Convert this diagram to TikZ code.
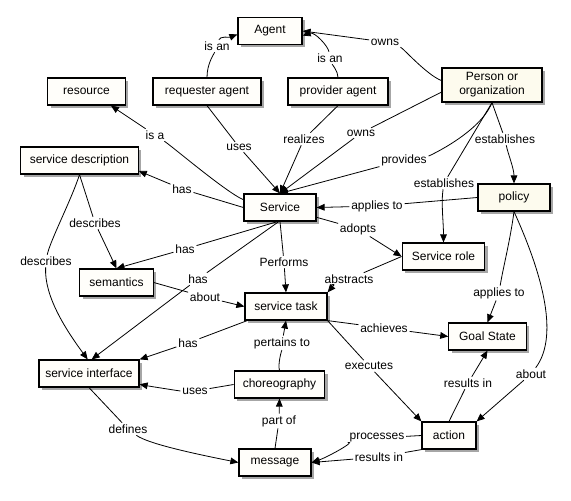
\documentclass[tikz,border=0pt]{standalone}
\usepackage{fontspec}
\setmainfont{Liberation Sans}
\usepackage{tikz}
\usetikzlibrary{positioning,shadows,arrows.meta}

\definecolor{boxfill}{RGB}{255,254,250}
\definecolor{creamfill}{RGB}{253,251,238}

\tikzset{
  concept/.style={draw=black, line width=0.9pt, fill=boxfill, minimum height=20.25pt, inner sep=2pt,
    font=\fontsize{9}{10.5}\selectfont,
    drop shadow={shadow xshift=2pt, shadow yshift=-2pt, opacity=0.35, fill=black}},
  linkword/.style={fill=white, inner sep=1.2pt, font=\fontsize{9}{10.5}\selectfont},
  link/.style={line width=0.6pt},
  arr/.style={link, -{Triangle[length=6pt,width=5pt]}},
}

\begin{document}
\begin{tikzpicture}[x=0.75pt,y=0.75pt,yscale=-1,xscale=1]
\useasboundingbox (0,0) rectangle (571,500);

%Node: Agent
\node[concept, minimum width=48pt] (agent) at (270,31) {Agent};
%Node: resource
\node[concept, minimum width=58pt] (resource) at (86.5,91.5) {resource};
%Node: requester agent
\node[concept, minimum width=81pt] (requester) at (207,91.5) {requester agent};
%Node: provider agent
\node[concept, minimum width=75pt] (provider) at (338,91.5) {provider agent};
%Node: Person or organization
\node[concept, fill=creamfill, minimum width=75pt, minimum height=25.5pt, align=center] (person) at (492,85) {Person or\\organization};
%Node: service description
\node[concept, minimum width=88pt] (description) at (79.5,160.5) {service description};
%Node: Service
\node[concept, minimum width=54pt] (service) at (280,207.5) {Service};
%Node: policy
\node[concept, fill=creamfill, minimum width=54pt] (policy) at (514,197.5) {policy};
%Node: semantics
\node[concept, minimum width=55pt] (semantics) at (116.5,282.5) {semantics};
%Node: Service role
\node[concept, minimum width=62pt] (role) at (443.5,256.5) {Service role};
%Node: service task
\node[concept, minimum width=61.5pt] (task) at (286,306.5) {service task};
%Node: Goal State
\node[concept, minimum width=58pt] (goal) at (487.5,336.5) {Goal State};
%Node: service interface
\node[concept, minimum width=75pt] (interface) at (89,373.5) {service interface};
%Node: choreography
\node[concept, minimum width=68pt] (choreo) at (279.5,384.5) {choreography};
%Node: action
\node[concept, minimum width=40.5pt] (action) at (449,435.5) {action};
%Node: message
\node[concept, minimum width=54pt] (message) at (275,462.5) {message};

%Linking words
\node[linkword] (isan1) at (217,46) {is an};
\node[linkword] (isan2) at (330,58) {is an};
\node[linkword] (owns1) at (385,42) {owns};
\node[linkword] (isa) at (155,135) {is a};
\node[linkword] (uses1) at (239,147) {uses};
\node[linkword] (realizes) at (304,139) {realizes};
\node[linkword] (owns2) at (361,133) {owns};
\node[linkword] (provides) at (404,160) {provides};
\node[linkword] (est1) at (505,139) {establishes};
\node[linkword] (est2) at (444,183) {establishes};
\node[linkword] (has1) at (182,189) {has};
\node[linkword] (app1) at (377,206) {applies to};
\node[linkword] (adopts) at (358,229) {adopts};
\node[linkword] (desc1) at (95,223) {describes};
\node[linkword] (desc2) at (46,261) {describes};
\node[linkword] (has2) at (185,249) {has};
\node[linkword] (performs) at (284,262) {Performs};
\node[linkword] (abstracts) at (349,279) {abstracts};
\node[linkword] (has3) at (198,279) {has};
\node[linkword] (about1) at (205,297) {about};
\node[linkword] (app2) at (499,293) {applies to};
\node[linkword] (has4) at (188,343) {has};
\node[linkword] (achieves) at (384,328) {achieves};
\node[linkword] (pertains) at (282,343) {pertains to};
\node[linkword] (executes) at (369,366) {executes};
\node[linkword] (uses2) at (195,391) {uses};
\node[linkword] (about2) at (531,374) {about};
\node[linkword] (res1) at (468,383) {results in};
\node[linkword] (defines) at (128,429) {defines};
\node[linkword] (partof) at (279,421) {part of};
\node[linkword] (processes) at (377,438) {processes};
\node[linkword] (res2) at (379,457) {results in};

%Links
\draw[link] (requester.north) .. controls +(0,-14) and +(-3,8) .. (isan1);
\draw[arr] (isan1) .. controls +(3,-10) and +(-8,3) .. (agent.186);
\draw[link] (provider.north) .. controls +(0,-6) and +(2,6) .. (isan2);
\draw[arr] (isan2) .. controls +(-2,-12) and +(12,-4) .. (agent.352);
\draw[link] (person.175) .. controls +(-15,-6) and +(18,6) .. (owns1);
\draw[arr] (owns1) -- (agent.east);
\draw[link] (service.168) .. controls +(-18,-8) and +(18,12) .. (isa);
\draw[arr] (isa) -- (resource.-30);
\draw[link] (requester.south) -- (uses1);
\draw[arr] (uses1) -- (service.north);
\draw[link] (provider.south) -- (realizes);
\draw[arr] (realizes) -- (service.north);
\draw[link] (person.188) -- (owns2);
\draw[arr] (owns2) -- (service.north);
\draw[link] (person.south) .. controls +(-12,30) and +(25,-4) .. (provides);
\draw[arr] (provides) -- (service.north);
\draw[link] (person.south) -- (est1);
\draw[arr] (est1) .. controls +(3,15) and +(0,-15) .. (policy.north);
\draw[link] (person.south) -- (est2);
\draw[arr] (est2) .. controls +(-3,20) and +(0,-20) .. (role.north);
\draw[link] (service.west) -- (has1);
\draw[arr] (has1) -- (description.-10);
\draw[link] (policy.west) -- (app1);
\draw[arr] (app1) -- (service.east);
\draw[link] (service.-15) -- (adopts);
\draw[arr] (adopts) -- (role.west);
\draw[link] (service.-100) -- (has2);
\draw[arr] (has2) -- (semantics.north);
\draw[link] (service.-95) -- (has3);
\draw[arr] (has3) -- ([xshift=2pt]interface.north);
\draw[link] (service.south) -- (performs);
\draw[arr] (performs) -- (task.north);
\draw[link] (role.west) -- (abstracts);
\draw[arr] (abstracts) .. controls +(-12,4) and +(5,-6) .. (task.north east);
\draw[link] (description.south) -- (desc1);
\draw[arr] (desc1) -- (semantics.north);
\draw[link] (description.south) .. controls +(-8,25) and +(4,-20) .. (desc2);
\draw[arr] (desc2) .. controls +(-2,35) and +(-22,-30) .. ([xshift=-1pt]interface.north);
\draw[link] (semantics.east) -- (about1);
\draw[arr] (about1) -- (task.west);
\draw[link] (policy.south) .. controls +(-4,30) and +(4,-25) .. (app2);
\draw[arr] (app2) -- (goal.north);
\draw[link] (policy.south) .. controls +(25,55) and +(30,-40) .. (about2);
\draw[arr] (about2) -- (action.north east);
\draw[link] (task.200) -- (has4);
\draw[arr] (has4) -- (interface.north east);
\draw[link] (task.south east) -- (achieves);
\draw[arr] (achieves) -- (goal.west);
\draw[link] (task.south east) -- (executes);
\draw[arr] (executes) -- (action.north west);
\draw[link] (choreo.north) .. controls +(-2,-6) and +(0,5) .. (pertains);
\draw[arr] (pertains) -- (task.south);
\draw[link] (choreo.west) -- (uses2);
\draw[arr] (uses2) .. controls +(-15,0) and +(10,2) .. (interface.-12);
\draw[link] (interface.south) -- (defines);
\draw[arr] (defines) .. controls +(20,15) and +(-40,-8) .. (message.west);
\draw[link] (message.north) -- (partof);
\draw[arr] (partof) -- (choreo.south);
\draw[link] (action.north) -- (res1);
\draw[arr] (res1) -- (goal.south);
\draw[link] (action.west) -- (processes);
\draw[arr] (processes) .. controls +(-20,3) and +(15,-5) .. (message.east);
\draw[link] (action.south west) -- (res2);
\draw[arr] (res2) -- (message.east);

\end{tikzpicture}
\end{document}
